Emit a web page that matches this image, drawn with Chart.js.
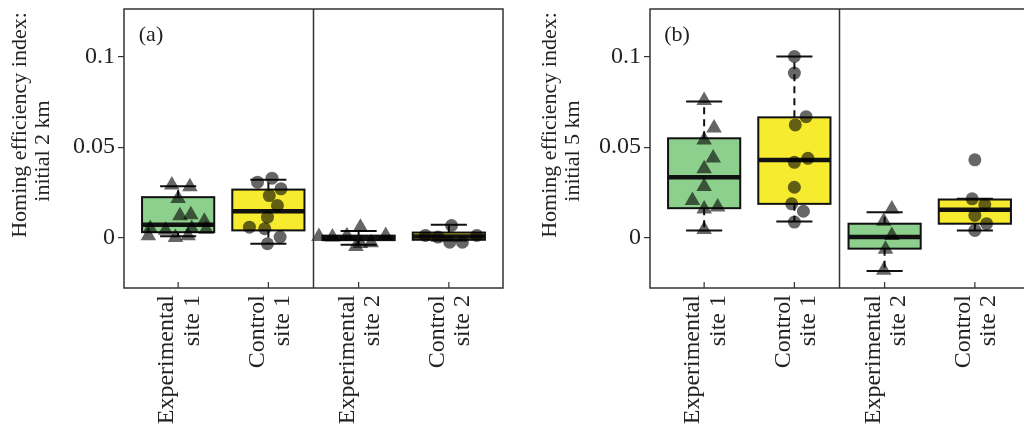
<!DOCTYPE html>
<html>
<head>
<meta charset="utf-8">
<script src="https://cdn.jsdelivr.net/npm/chart.js@4/dist/chart.umd.min.js"></script>
<style>
  html, body { margin: 0; padding: 0; background: #fff; overflow: hidden; width: 1024px; height: 431px; }
  .panel { position: absolute; top: 0; width: 512px; height: 431px; }
</style>
</head>
<body>
<div class="panel" style="left:0"><canvas id="chartA"></canvas></div>
<div class="panel" style="left:526px"><canvas id="chartB"></canvas></div>
<script>
// categories and ticks
const categories = [['Experimental', 'site 1'], ['Control', 'site 1'], ['Experimental', 'site 2'], ['Control', 'site 2']];
const yTicks = [0, 0.05, 0.1];
const yTickLabels = ['0', '0.05', '0.1'];

// (a) initial 2 km - box stats per category
const aQ1 = [0.0029, 0.0039, -0.0015, -0.0013];
const aMedian = [0.0070, 0.0145, -0.0003, 0.0005];
const aQ3 = [0.0223, 0.0265, 0.0010, 0.0027];
const aLow = [0.0007, -0.0035, -0.0040, -0.0017];
const aHigh = [0.0283, 0.0320, 0.0035, 0.0070];

// (a) individual values + horizontal jitter
const aExp1 = [0.029, 0.028, 0.0215, 0.012, 0.0125, 0.009, 0.005, 0.004, 0.005, 0.0045, 0.001, 0.000, 0.001];
const aExp1Jitter = [-0.07, 0.13, 0, 0.02, 0.14, 0.29, -0.31, -0.14, 0.15, 0.31, -0.33, -0.03, 0.11];
const aCtrl1 = [0.0306, 0.0328, 0.0269, 0.0232, 0.0177, 0.0112, 0.0057, 0.0048, 0.0002, -0.0035];
const aCtrl1Jitter = [-0.12, 0.04, 0.14, 0.01, 0.1, -0.01, -0.21, -0.04, 0.13, -0.01];
const aExp2 = [0.0005, 0.0002, 0.0010, 0.0057, -0.0033, -0.0030, 0.0011, -0.0050];
const aExp2Jitter = [-0.44, -0.29, -0.13, 0.02, 0.02, 0.14, 0.3, -0.03];
const aCtrl2 = [0.0011, 0.0002, 0.0066, -0.0026, -0.0026, 0.0011];
const aCtrl2Jitter = [-0.26, -0.12, 0.03, 0.01, 0.15, 0.31];

// (b) initial 5 km - box stats per category
const bQ1 = [0.0162, 0.0186, -0.0062, 0.0076];
const bMedian = [0.0333, 0.0429, 0.0002, 0.0153];
const bQ3 = [0.0549, 0.0665, 0.0076, 0.0210];
const bLow = [0.0039, 0.0088, -0.0186, 0.0039];
const bHigh = [0.0753, 0.1002, 0.0140, 0.0214];

// (b) individual values
const bExp1 = [0.0758, 0.0606, 0.054, 0.044, 0.038, 0.0282, 0.0204, 0.0158, 0.0168, 0.0044];
const bExp1Jitter = [0, 0.11, 0, 0.1, 0, 0, -0.13, 0, 0.15, 0];
const bCtrl1 = [0.1002, 0.091, 0.0669, 0.0623, 0.0416, 0.0438, 0.0278, 0.0186, 0.0145, 0.0085];
const bCtrl1Jitter = [0, 0, 0.13, 0.01, 0, 0.15, 0, -0.03, 0.1, 0];
const bExp2 = [0.0158, 0.009, 0.0011, -0.0066, -0.0182];
const bExp2Jitter = [0.08, -0.01, 0.08, 0.01, -0.01];
const bCtrl2 = [0.043, 0.0214, 0.0182, 0.0122, 0.0076, 0.0039];
const bCtrl2Jitter = [0, -0.03, 0.11, 0, 0.13, 0];

const boxColors = ['#8dcf8d', '#f6eb2e', '#8dcf8d', '#f6eb2e'];
const pointStyles = ['triangle', 'circle', 'triangle', 'circle'];
const serif = '"Liberation Serif", "DejaVu Serif", serif';
const ink = '#222';

function toPoints(values, jitter, pos) {
  return values.map((v, i) => ({ x: pos + jitter[i], y: v }));
}

function line(ctx, x1, y1, x2, y2) {
  ctx.beginPath();
  ctx.moveTo(x1, y1);
  ctx.lineTo(x2, y2);
  ctx.stroke();
}

// boxes, whiskers, frame and labels drawn via the chart's scales
function boxPlugin(stats, letter, titleLines, titleX) {
  return {
    id: 'boxes',
    beforeDatasetsDraw(chart) {
      const { ctx, scales: { x, y } } = chart;
      ctx.save();
      stats.q1.forEach((q1, i) => {
        const pos = i + 1;
        const mid = x.getPixelForValue(pos);
        const left = x.getPixelForValue(pos - 0.4);
        const right = x.getPixelForValue(pos + 0.4);
        const capL = x.getPixelForValue(pos - 0.2);
        const capR = x.getPixelForValue(pos + 0.2);
        const top = y.getPixelForValue(stats.q3[i]);
        const bot = y.getPixelForValue(q1);
        const hi = y.getPixelForValue(stats.high[i]);
        const lo = y.getPixelForValue(stats.low[i]);
        const med = y.getPixelForValue(stats.median[i]);

        ctx.strokeStyle = '#111';
        ctx.lineWidth = 2;
        ctx.setLineDash([7, 5]);
        line(ctx, mid, top, mid, hi);
        line(ctx, mid, bot, mid, lo);
        ctx.setLineDash([]);
        line(ctx, capL, hi, capR, hi);
        line(ctx, capL, lo, capR, lo);

        ctx.fillStyle = boxColors[i];
        ctx.fillRect(left, top, right - left, bot - top);
        ctx.strokeRect(left, top, right - left, bot - top);

        ctx.lineWidth = 4.5;
        line(ctx, left, med, right, med);
      });
      ctx.restore();
    },
    afterDraw(chart) {
      const { ctx, chartArea: a, scales: { x } } = chart;
      ctx.save();
      ctx.strokeStyle = '#333';
      ctx.lineWidth = 1.5;
      ctx.strokeRect(a.left, a.top, a.right - a.left, a.bottom - a.top);
      const div = x.getPixelForValue(2.5);
      line(ctx, div, a.top, div, a.bottom);
      // inward x ticks
      ctx.lineWidth = 1.2;
      categories.forEach((c, i) => {
        const px = x.getPixelForValue(i + 1);
        line(ctx, px, a.bottom, px, a.bottom - 6);
      });
      ctx.fillStyle = ink;
      ctx.font = '22px ' + serif;
      ctx.textAlign = 'center';
      ctx.textBaseline = 'middle';
      ctx.fillText(letter, a.left + 27, 35);
      // y axis title, two lines
      titleLines.forEach((t, i) => {
        ctx.save();
        ctx.translate(titleX[i], [125, 151][i]);
        ctx.rotate(-Math.PI / 2);
        ctx.fillText(t, 0, 0);
        ctx.restore();
      });
      ctx.restore();
    }
  };
}

function makePanel(id, letter, titleLines, titleX, stats, groups) {
  const datasets = groups.map((g, i) => ({
    data: toPoints(g.values, g.jitter, i + 1),
    pointStyle: pointStyles[i],
    pointRadius: pointStyles[i] === 'triangle' ? 9 : 6.5,
    backgroundColor: 'rgba(0, 0, 0, 0.6)',
    borderWidth: 0
  }));
  return new Chart(document.getElementById(id), {
    type: 'scatter',
    data: { datasets },
    options: {
      responsive: true,
      maintainAspectRatio: false,
      animation: false,
      events: [],
      layout: { padding: { top: 8, right: 7, left: 0, bottom: 0 } },
      plugins: { legend: { display: false }, tooltip: { enabled: false } },
      scales: {
        x: {
          type: 'linear',
          min: 0.4,
          max: 4.6,
          afterFit: s => { s.height = 143; s.paddingLeft = 0; s.paddingRight = 0; },
          afterBuildTicks: s => { s.ticks = categories.map((c, i) => ({ value: i + 1 })); },
          grid: { display: false, drawTicks: false },
          border: { display: false },
          ticks: {
            autoSkip: false,
            minRotation: 90,
            maxRotation: 90,
            padding: 7,
            labelOffset: -11,
            color: ink,
            font: { family: serif, size: 24, lineHeight: 1.05 },
            callback: v => categories[v - 1]
          }
        },
        y: {
          min: -0.028,
          max: 0.1265,
          afterFit: s => { s.width = 124; s.paddingTop = 0; s.paddingBottom = 0; },
          afterBuildTicks: s => { s.ticks = yTicks.map(v => ({ value: v })); },
          grid: { drawOnChartArea: false, tickLength: 6, color: '#333', lineWidth: 1.2 },
          border: { display: false },
          ticks: {
            padding: 3,
            color: ink,
            font: { family: serif, size: 24 },
            callback: v => yTickLabels[yTicks.indexOf(v)]
          }
        }
      }
    },
    plugins: [boxPlugin(stats, letter, titleLines, titleX)]
  });
}

makePanel('chartA', '(a)', ['Homing efficiency index:', 'initial 2 km'], [20, 43],
  { q1: aQ1, median: aMedian, q3: aQ3, low: aLow, high: aHigh },
  [
    { values: aExp1, jitter: aExp1Jitter },
    { values: aCtrl1, jitter: aCtrl1Jitter },
    { values: aExp2, jitter: aExp2Jitter },
    { values: aCtrl2, jitter: aCtrl2Jitter }
  ]);

makePanel('chartB', '(b)', ['Homing efficiency index:', 'initial 5 km'], [24, 47],
  { q1: bQ1, median: bMedian, q3: bQ3, low: bLow, high: bHigh },
  [
    { values: bExp1, jitter: bExp1Jitter },
    { values: bCtrl1, jitter: bCtrl1Jitter },
    { values: bExp2, jitter: bExp2Jitter },
    { values: bCtrl2, jitter: bCtrl2Jitter }
  ]);
</script>
</body>
</html>
